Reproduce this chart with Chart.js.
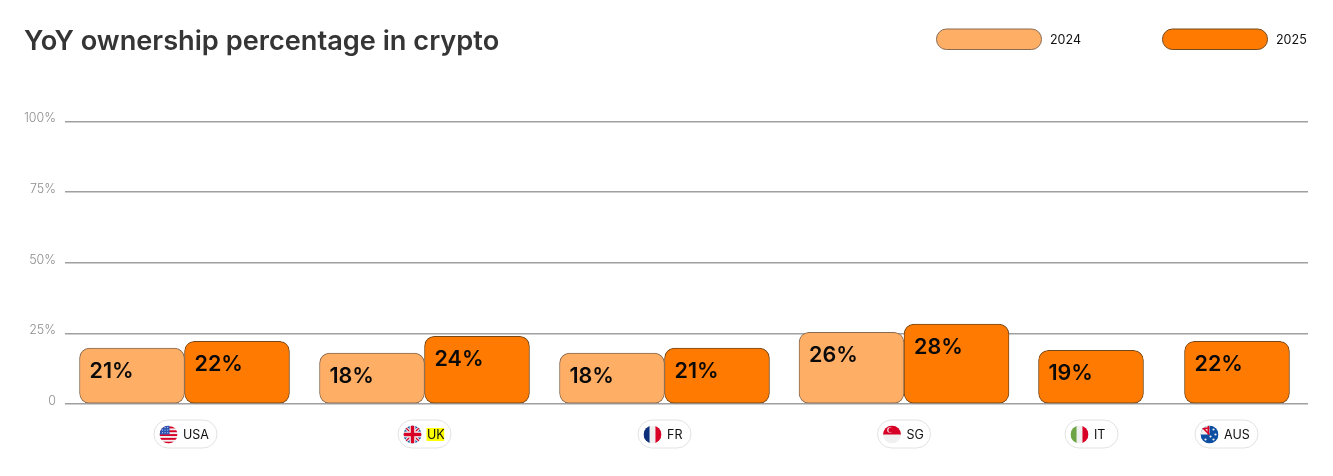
<!DOCTYPE html>
<html>
<head>
<meta charset="utf-8">
<style>html,body{margin:0;padding:0;background:#fff}canvas{display:block}</style>
<script src="https://cdn.jsdelivr.net/npm/chart.js@4"></script>
</head>
<body>
<canvas id="c" width="1333" height="476"></canvas>
<script>
const chartTitle = "YoY ownership percentage in crypto";
const categories = ["USA", "UK", "FR", "SG", "IT", "AUS"];
const values2024 = [19.8, 18, 18, 25.4, null, null];
const values2025 = [22.2, 24, 19.8, 28.3, 19, 22.2];
const printed2024 = ["21%", "18%", "18%", "26%", null, null];
const printed2025 = ["22%", "24%", "21%", "28%", "19%", "22%"];
const groupCentres = [119.5, 359.5, 599.5, 839, 1026, 1172];
const pillCentres = [120.5, 359.5, 599.5, 839, 1026.5, 1161.5];
const yTicks = [0, 25, 50, 75, 100];

const halfBar = 52.5;
function points(vals, printed, other, side) {
  const out = [];
  vals.forEach((v, i) => {
    if (v === null) return;
    out.push({ x: groupCentres[i] + (other[i] === null ? 0 : side * halfBar), y: v, printed: printed[i] });
  });
  return out;
}

function rr(ctx, x, y, w, h, r) { ctx.beginPath(); ctx.roundRect(x, y, w, h, r); }

const flags = {
  USA(ctx, cx, cy, r) {
    ctx.fillStyle = "#f0f0f0"; ctx.fillRect(cx - r, cy - r, 2 * r, 2 * r);
    ctx.fillStyle = "#d80027";
    for (let k = 0; k < 5; k++) ctx.fillRect(cx - r, cy - r + 1 + k * 3.8, 2 * r, 1.9);
    ctx.fillStyle = "#2a55b5"; ctx.fillRect(cx - r, cy - r, r + 1, r);
    ctx.fillStyle = "#cfd8ef";
    for (let a = 0; a < 3; a++) for (let b = 0; b < 3; b++) ctx.fillRect(cx - r + 2.5 + a * 2.6, cy - r + 1.5 + b * 2.6, 1, 1);
  },
  UK(ctx, cx, cy, r) {
    ctx.fillStyle = "#0b4ea2"; ctx.fillRect(cx - r, cy - r, 2 * r, 2 * r);
    ctx.strokeStyle = "#f0f0f0"; ctx.lineWidth = 3.4;
    ctx.beginPath(); ctx.moveTo(cx - r, cy - r); ctx.lineTo(cx + r, cy + r); ctx.moveTo(cx + r, cy - r); ctx.lineTo(cx - r, cy + r); ctx.stroke();
    ctx.strokeStyle = "#d80027"; ctx.lineWidth = 1.2;
    ctx.beginPath(); ctx.moveTo(cx - r, cy - r); ctx.lineTo(cx + r, cy + r); ctx.moveTo(cx + r, cy - r); ctx.lineTo(cx - r, cy + r); ctx.stroke();
    ctx.fillStyle = "#f0f0f0"; ctx.fillRect(cx - r, cy - 3, 2 * r, 6); ctx.fillRect(cx - 3, cy - r, 6, 2 * r);
    ctx.fillStyle = "#d80027"; ctx.fillRect(cx - r, cy - 1.7, 2 * r, 3.4); ctx.fillRect(cx - 1.7, cy - r, 3.4, 2 * r);
  },
  FR(ctx, cx, cy, r) {
    ctx.fillStyle = "#f0f0f0"; ctx.fillRect(cx - r, cy - r, 2 * r, 2 * r);
    ctx.fillStyle = "#0b2f7a"; ctx.fillRect(cx - r, cy - r, r * 0.67, 2 * r);
    ctx.fillStyle = "#d80027"; ctx.fillRect(cx + r * 0.33, cy - r, r * 0.67, 2 * r);
  },
  SG(ctx, cx, cy, r) {
    ctx.fillStyle = "#f0f0f0"; ctx.fillRect(cx - r, cy - r, 2 * r, 2 * r);
    ctx.fillStyle = "#d80027"; ctx.fillRect(cx - r, cy - r, 2 * r, r);
    ctx.fillStyle = "#f0f0f0"; ctx.beginPath(); ctx.arc(cx - 2, cy - 4.5, 2.8, 0, 7); ctx.fill();
    ctx.fillStyle = "#d80027"; ctx.beginPath(); ctx.arc(cx - 1, cy - 4.5, 2.6, 0, 7); ctx.fill();
  },
  IT(ctx, cx, cy, r) {
    ctx.fillStyle = "#f0f0f0"; ctx.fillRect(cx - r, cy - r, 2 * r, 2 * r);
    ctx.fillStyle = "#6da544"; ctx.fillRect(cx - r, cy - r, r * 0.67, 2 * r);
    ctx.fillStyle = "#d80027"; ctx.fillRect(cx + r * 0.33, cy - r, r * 0.67, 2 * r);
  },
  AUS(ctx, cx, cy, r) {
    ctx.fillStyle = "#0b4ea2"; ctx.fillRect(cx - r, cy - r, 2 * r, 2 * r);
    ctx.fillStyle = "#f0f0f0"; ctx.fillRect(cx - r, cy - r, r, r);
    ctx.strokeStyle = "#d80027"; ctx.lineWidth = 1.6;
    ctx.beginPath(); ctx.moveTo(cx - r, cy - r); ctx.lineTo(cx, cy); ctx.stroke();
    ctx.fillStyle = "#d80027"; ctx.fillRect(cx - r, cy - 2.5 - r / 2, r, 1.6); ctx.fillRect(cx - 2, cy - r, 1.6, r);
    ctx.fillStyle = "#f0f0f0";
    [[-4, 5], [4, -5], [6, 0], [4, 5], [1, 2]].forEach(p => { ctx.beginPath(); ctx.arc(cx + p[0], cy + p[1], 1.1, 0, 7); ctx.fill(); });
  }
};

const pillsPlugin = {
  id: "pills",
  afterDraw(chart) {
    const { ctx, scales: { x } } = chart;
    categories.forEach((name, i) => {
      const w = name.length === 3 ? 63 : 53;
      const cx = x.getPixelForValue(pillCentres[i]);
      const left = cx - w / 2, top = 420, h = 28;
      ctx.save();
      rr(ctx, left, top, w, h, 14);
      ctx.fillStyle = "#fff"; ctx.fill();
      ctx.strokeStyle = "#e2e2e2"; ctx.lineWidth = 1; ctx.stroke();
      ctx.save();
      ctx.beginPath(); ctx.arc(left + 14.5, 434.5, 9, 0, Math.PI * 2); ctx.clip();
      flags[name](ctx, left + 14.5, 434.5, 9);
      ctx.restore();
      ctx.font = "400 12.5px Inter";
      ctx.textAlign = "left"; ctx.textBaseline = "middle";
      if (name === "UK") {
        const tw = ctx.measureText(name).width;
        ctx.fillStyle = "#ffff00"; ctx.fillRect(left + 28.5, 428, tw, 13);
      }
      ctx.fillStyle = "#111";
      ctx.fillText(name, left + 29, 435);
      ctx.restore();
    });
  }
};

const barLabelsPlugin = {
  id: "barLabels",
  afterDatasetsDraw(chart) {
    const { ctx } = chart;
    chart.data.datasets.forEach((ds, di) => {
      chart.getDatasetMeta(di).data.forEach((el, i) => {
        const p = el.getProps(["x", "y", "width"], true);
        ctx.save();
        ctx.font = "600 21.5px Inter";
        ctx.fillStyle = "#0a0a0a";
        ctx.textAlign = "left"; ctx.textBaseline = "middle";
        ctx.fillText(ds.data[i].printed, p.x - p.width / 2 + 10, p.y + 23);
        ctx.restore();
      });
    });
  }
};

const legendPlugin = {
  id: "swatches",
  afterDraw(chart) {
    const { ctx } = chart;
    const lefts = [936.5, 1162.5];
    chart.data.datasets.forEach((ds, i) => {
      ctx.save();
      rr(ctx, lefts[i], 29, 105, 20.5, 10);
      ctx.fillStyle = ds.backgroundColor; ctx.fill();
      ctx.strokeStyle = ds.borderColor; ctx.lineWidth = 1; ctx.stroke();
      ctx.font = "400 12.5px Inter"; ctx.fillStyle = "#111";
      ctx.textAlign = "left"; ctx.textBaseline = "middle";
      ctx.fillText(ds.label, lefts[i] + 113.5, 40);
      ctx.restore();
    });
  }
};

new Chart(document.getElementById("c"), {
  type: "bar",
  data: {
    datasets: [
      { label: "2024", data: points(values2024, printed2024, values2025, -1), backgroundColor: "#FFAE66", borderColor: "#8a6a50" },
      { label: "2025", data: points(values2025, printed2025, values2024, 1), backgroundColor: "#FF7A00", borderColor: "#75481a" }
    ]
  },
  plugins: [pillsPlugin, barLabelsPlugin, legendPlugin],
  options: {
    responsive: false,
    animation: false,
    layout: { padding: { left: 24, right: 25, top: 0, bottom: 0 } },
    datasets: { bar: { grouped: false, barThickness: 105, borderWidth: 1, borderRadius: 10, borderSkipped: false } },
    plugins: {
      legend: { display: false },
      tooltip: { enabled: false },
      title: {
        display: true, text: chartTitle, align: "start", color: "#353535",
        font: { family: "Inter", size: 27.2, weight: "600" },
        padding: { top: 26, bottom: 63 }
      }
    },
    scales: {
      x: {
        type: "linear", min: 0, max: 1243, offset: false,
        grid: { display: false }, border: { display: false },
        ticks: { display: false },
        afterFit(s) { s.height = 72; }
      },
      y: {
        min: 0, max: 100,
        grid: { color: "#a0a0a0", lineWidth: 1.5, drawTicks: false },
        border: { display: false },
        afterBuildTicks(s) { s.ticks = yTicks.map(v => ({ value: v })); },
        ticks: {
          color: "#8c8c8c", font: { family: "Inter", size: 12.5, weight: "300" },
          padding: 9, labelOffset: -3,
          callback: v => v === 0 ? "0" : v + "%"
        },
        afterFit(s) { s.width = 41; }
      }
    }
  }
});
</script>
</body>
</html>
